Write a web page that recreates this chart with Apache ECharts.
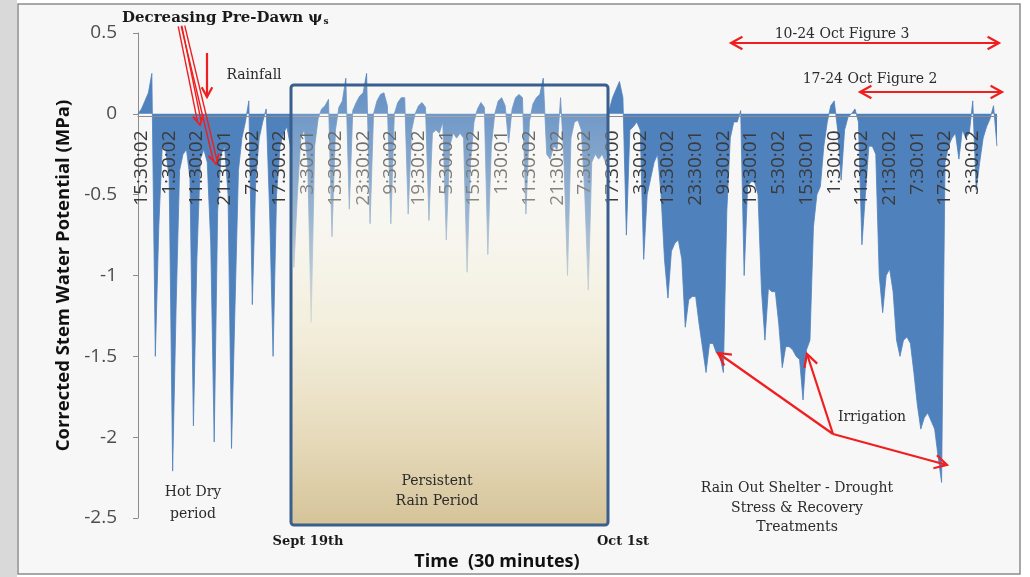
<!DOCTYPE html>
<html><head><meta charset="utf-8">
<script src="https://cdn.jsdelivr.net/npm/echarts@6/dist/echarts.min.js"></script>
<style>html,body{margin:0;padding:0;background:#fff}#c{width:1030px;height:577px}</style>
</head><body><div id="c"></div><script>
// Tick labels shown on the time axis (every 8th sample, starting at sample 1)
const tickLabels = ['15:30:02','1:30:02','11:30:02','21:30:01','7:30:02','17:30:02','3:30:01','13:30:02','23:30:02','9:30:02','19:30:02','5:30:01','15:30:02','1:30:01','11:30:02','21:30:02','7:30:02','17:30:00','3:30:02','13:30:02','23:30:01','9:30:02','19:30:01','5:30:02','15:30:01','1:30:00','11:30:02','21:30:02','7:30:01','17:30:02','3:30:02'];
const labelStep = 8;
const labelOffset = 1;
// Corrected stem water potential (MPa)
const waterPotential = [
 0.0, 0.03, 0.08, 0.13, 0.25, -1.5, -0.7, -0.2, -0.22, -0.4,
 -2.21, -1.2, -0.35, -0.25, -0.22, -0.4, -1.93, -0.9, -0.28, -0.22,
 -0.3, -0.8, -2.03, -0.6, -0.25, -0.2, -0.5, -2.07, -1.2, -0.35,
 -0.15, -0.05, 0.08, -1.18, -0.4, -0.15, -0.05, 0.03, -0.6, -1.5,
 -0.5, -0.2, -0.12, -0.08, -0.2, -0.95, -0.5, -0.15, -0.1, -0.3,
 -1.29, -0.2, -0.03, 0.03, 0.05, 0.09, -0.76, -0.1, 0.04, 0.08,
 0.22, -0.59, 0.02, 0.07, 0.11, 0.13, 0.25, -0.68, 0.0, 0.08,
 0.12, 0.13, 0.05, -0.68, 0.0, 0.07, 0.1, 0.1, -0.62, -0.1,
 0.0, 0.05, 0.07, 0.04, -0.66, -0.12, -0.1, -0.12, -0.05, -0.78,
 -0.2, -0.12, -0.15, -0.12, -0.15, -0.98, -0.3, -0.05, 0.03, 0.07,
 0.04, -0.87, -0.2, 0.0, 0.08, 0.1, 0.05, -0.18, 0.03, 0.1,
 0.12, 0.1, -0.62, -0.05, 0.06, 0.1, 0.12, 0.22, -0.25, -0.28,
 -0.2, -0.22, 0.1, -0.3, -1.0, -0.15, -0.05, -0.04, -0.1, -0.5,
 -1.09, -0.3, -0.25, -0.28, -0.25, -0.3, 0.02, 0.1, 0.15, 0.2,
 0.1, -0.75, -0.1, -0.08, -0.05, -0.1, -0.9, -0.5, -0.4, -0.3,
 -0.25, -0.5, -0.9, -1.14, -0.85, -0.8, -0.78, -0.9, -1.32, -1.15,
 -1.13, -1.13, -1.3, -1.45, -1.6, -1.42, -1.42, -1.48, -1.5, -1.6,
 -0.6, -0.15, -0.05, -0.05, 0.02, -1.0, -0.45, -0.42, -0.42, -0.5,
 -1.09, -1.4, -1.08, -1.1, -1.1, -1.3, -1.57, -1.44, -1.44, -1.46,
 -1.5, -1.52, -1.77, -1.46, -1.4, -0.7, -0.5, -0.45, -0.2, -0.05,
 0.05, 0.08, -0.1, -0.41, -0.1, -0.02, 0.0, 0.03, -0.05, -0.81,
 -0.5, -0.2, -0.2, -0.25, -1.0, -1.23, -1.0, -0.96, -1.1, -1.4,
 -1.5, -1.4, -1.38, -1.42, -1.6, -1.8, -1.95, -1.88, -1.85, -1.9,
 -1.95, -2.12, -2.28, -0.3, -0.2, -0.15, -0.12, -0.28, -0.1, -0.15,
 -0.12, 0.08, -0.47, -0.3, -0.15, -0.08, -0.03, 0.05, -0.2
];
const yMin = -2.5, yMax = 0.5, yStep = 0.5;

const categories = waterPotential.map(function (v, i) {
  return (i >= labelOffset && (i - labelOffset) % labelStep === 0) ? tickLabels[(i - labelOffset) / labelStep] : '';
});

const RED = '#f01e1e';
function pl(pts, w, color, z) {
  return { type: 'polyline', silent: true, z: z || 60, shape: { points: pts }, style: { stroke: color || RED, lineWidth: w || 2, fill: null } };
}
function headPts(x, y, ang, size) {
  const s = size || 12, sp = 0.5;
  return [[x - s * Math.cos(ang - sp), y - s * Math.sin(ang - sp)], [x, y], [x - s * Math.cos(ang + sp), y - s * Math.sin(ang + sp)]];
}
function arrow(x1, y1, x2, y2, both, size) {
  const a = Math.atan2(y2 - y1, x2 - x1);
  const out = [pl([[x1, y1], [x2, y2]], 2.2), pl(headPts(x2, y2, a, size), 2.2)];
  if (both) out.push(pl(headPts(x1, y1, a + Math.PI, size), 2.2));
  return out;
}
function hollowArrow(x1, y1, x2, y2) {
  const a = Math.atan2(y2 - y1, x2 - x1);
  const nx = -Math.sin(a) * 1.8, ny = Math.cos(a) * 1.8;
  return [
    pl([[x1 + nx, y1 + ny], [x2 + nx - 4 * Math.cos(a), y2 + ny - 4 * Math.sin(a)]], 1.4),
    pl([[x1 - nx, y1 - ny], [x2 - nx - 4 * Math.cos(a), y2 - ny - 4 * Math.sin(a)]], 1.4),
    pl(headPts(x2, y2, a, 11), 1.8)
  ];
}
function txt(s, x, y, font, extra) {
  const st = Object.assign({ text: s, x: x, y: y, font: font, fill: '#2b2b2b',
    align: 'center', verticalAlign: 'middle', textAlign: 'center', textVerticalAlign: 'middle' }, extra || {});
  return { type: 'text', silent: true, z: 120, style: st };
}
const SERIF = '"DejaVu Serif", serif';

const graphics = [
  { type: 'rect', silent: true, z: -10, shape: { x: 0, y: 0, width: 17, height: 577 }, style: { fill: '#d9d9d9' } },
  { type: 'rect', silent: true, z: -9, shape: { x: 18, y: 4, width: 1002, height: 570 }, style: { fill: '#f7f7f7', stroke: '#8c8c8c', lineWidth: 1.5 } },
  // Persistent rain period box
  { type: 'rect', silent: true, z: 100, shape: { x: 291, y: 85, width: 317, height: 440, r: 3 },
    style: { stroke: '#3b5f8c', lineWidth: 3,
      fill: { type: 'linear', x: 0, y: 0, x2: 0, y2: 1, colorStops: [
        { offset: 0, color: 'rgba(252,251,246,0.12)' },
        { offset: 0.3, color: 'rgba(248,245,232,0.45)' },
        { offset: 0.55, color: 'rgba(242,236,214,0.82)' },
        { offset: 0.8, color: 'rgba(229,217,184,0.96)' },
        { offset: 1, color: 'rgba(213,195,152,1)' } ] } } },
  txt('Persistent\nRain Period', 437, 491, '14px ' + SERIF, { lineHeight: 20 }),
  txt('Hot Dry\nperiod', 193, 503, '14px ' + SERIF, { lineHeight: 22 }),
  txt('Rain Out Shelter - Drought\nStress & Recovery\nTreatments', 797, 508, '14px ' + SERIF, { lineHeight: 19.5 }),
  txt('Irrigation', 872, 417, '14px ' + SERIF),
  txt('Rainfall', 254, 75, '14px ' + SERIF),
  txt('10-24 Oct Figure 3', 842, 34, '14px ' + SERIF),
  txt('17-24 Oct Figure 2', 870, 79, '14px ' + SERIF),
  txt('Sept 19th', 308, 542, 'bold 13px ' + SERIF, { fill: '#1a1a1a' }),
  txt('Oct 1st', 623, 542, 'bold 13px ' + SERIF, { fill: '#1a1a1a' }),
  txt('Time  (30 minutes)', 497, 562, 'bold 18px "Open Sans"', { fill: '#111' }),
  { type: 'text', silent: true, z: 120, style: { x: 122, y: 18, text: '{a|Decreasing Pre-Dawn ψ}{b|s}',
      align: 'left', verticalAlign: 'middle', textAlign: 'left', textVerticalAlign: 'middle', fill: '#1a1a1a',
      rich: { a: { font: 'bold 15px ' + SERIF, fill: '#1a1a1a' }, b: { font: 'bold 9px ' + SERIF, fill: '#1a1a1a', verticalAlign: 'bottom', padding: [7, 0, 0, 1] } } } }
].concat(
  hollowArrow(180, 26, 200, 125),
  hollowArrow(183, 26, 216, 164),
  arrow(207, 53, 207, 97, false, 11),
  arrow(731, 43, 999, 43, true, 13),
  arrow(860, 92, 1002, 92, true, 13),
  arrow(833, 434, 718, 353, false, 14),
  arrow(833, 434, 807, 354, false, 14),
  arrow(833, 434, 947, 465, false, 14)
);

const chart = echarts.init(document.getElementById('c'), null, { renderer: 'canvas' });
chart.setOption({
  animation: false,
  backgroundColor: '#ffffff',
  grid: { left: 138, right: 33, top: 33, bottom: 59, containLabel: false },
  xAxis: {
    type: 'category', data: categories, boundaryGap: false, z: 5, position: 'bottom', offset: 0,
    axisLine: { onZero: false, lineStyle: { color: '#8c8c8c', width: 1 } },
    axisTick: { show: false },
    axisLabel: { interval: function (idx, val) { return val !== ''; }, rotate: 90, margin: 14,
      color: '#3a3a3a', fontFamily: '"Open Sans"', fontSize: 19 },
    splitLine: { show: false }
  },
  yAxis: {
    type: 'value', min: yMin, max: yMax, interval: yStep,
    name: 'Corrected Stem Water Potential (MPa)', nameLocation: 'middle', nameGap: 64,
    nameTextStyle: { fontFamily: '"Open Sans"', fontWeight: 'bold', fontSize: 18.5, color: '#111' },
    axisLine: { show: true, lineStyle: { color: '#8c8c8c' } },
    axisTick: { show: true, length: 5, lineStyle: { color: '#8c8c8c' } },
    axisLabel: { margin: 21, color: '#4d4d4d', fontFamily: '"Open Sans"', fontSize: 19 },
    splitLine: { show: false }
  },
  series: [{
    type: 'line', data: waterPotential, symbol: 'none', z: 2,
    lineStyle: { color: '#4f81bd', width: 0.8 },
    itemStyle: { color: '#4f81bd' },
    areaStyle: { color: '#4f81bd', opacity: 1, origin: 0 }
  }],
  graphic: graphics
});
// Move the category axis (line + labels) up to the value-axis zero, computed through the y scale
const zeroY = chart.convertToPixel({ yAxisIndex: 0 }, 0);
const bottomY = chart.convertToPixel({ yAxisIndex: 0 }, yMin);
chart.setOption({ xAxis: { offset: zeroY - bottomY - 25 } });
</script></body></html>
